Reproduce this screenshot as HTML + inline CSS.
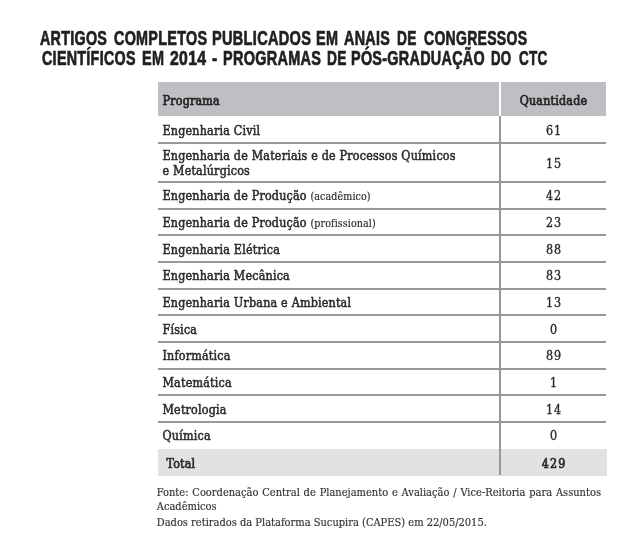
<!DOCTYPE html>
<html lang="pt-BR"><head><meta charset="utf-8"><title>Artigos completos publicados em anais de congressos</title>
<style>
html,body{margin:0;padding:0;background:#fff;}
body{width:640px;height:556px;position:relative;overflow:hidden;}
.ttl{margin:0;font-size:0;}
.h1{position:absolute;font-family:'Liberation Sans',Arial,sans-serif;font-weight:700;-webkit-text-stroke:0.7px #231f20;letter-spacing:0.4px;font-size:19.4px;line-height:20px;color:#231f20;white-space:nowrap;transform-origin:0 0;}
.t{position:absolute;font-family:'DejaVu Serif Condensed','DejaVu Serif','Liberation Serif',serif;font-stretch:condensed;font-size:12.4px;line-height:20px;color:#2b2a2b;white-space:nowrap;letter-spacing:0.2px;-webkit-text-stroke:0.5px #2b2a2b;}
.c{text-align:center;}
.n{-webkit-text-stroke:0.35px #2b2a2b;letter-spacing:0.9px;text-indent:0.9px;}
.b{font-weight:700;}
.hd{-webkit-text-stroke:0.65px #262626;color:#262626;}
.tb{-webkit-text-stroke:0.65px #2b2a2b;}
.tn{letter-spacing:1.1px;text-indent:1.1px;}
.s{font-size:10.6px;letter-spacing:0.1px;-webkit-text-stroke:0.15px #2b2a2b;}
.f{font-size:11px;color:#333;-webkit-text-stroke:0.15px #333;letter-spacing:0;}
.ln{position:absolute;left:158px;width:448px;height:2px;background:#96979b;}
.hdr{position:absolute;left:158px;top:82px;width:448px;height:34px;background:#bebfc3;}
.sep{position:absolute;left:499px;top:82px;width:2px;height:34px;background:#fff;}
.vl{position:absolute;left:499px;top:116px;width:2px;height:359.4px;background:#96979b;}
.tot{position:absolute;left:158px;top:448.5px;width:449px;height:27px;background:#e2e2e4;}
</style></head><body>
<h1 class="ttl"><span class="h1" style="left:40.3px;top:27.70px;transform:scaleX(0.7372)">ARTIGOS</span> <span class="h1" style="left:113.6px;top:27.70px;transform:scaleX(0.74)">COMPLETOS</span> <span class="h1" style="left:212.15px;top:27.70px;transform:scaleX(0.75)">PUBLICADOS</span> <span class="h1" style="left:316.36px;top:27.70px;transform:scaleX(0.7429)">EM</span> <span class="h1" style="left:344.25px;top:27.70px;transform:scaleX(0.7395)">ANAIS</span> <span class="h1" style="left:396.54px;top:27.70px;transform:scaleX(0.7058)">DE</span> <span class="h1" style="left:423.5px;top:27.70px;transform:scaleX(0.7225)">CONGRESSOS</span><br>
<span class="h1" style="left:41.5px;top:47.60px;transform:scaleX(0.737)">CIENTÍFICOS</span> <span class="h1" style="left:141.51px;top:47.60px;transform:scaleX(0.7446)">EM</span> <span class="h1" style="left:169.6px;top:47.60px;transform:scaleX(0.8144)">2014</span> <span class="h1" style="left:211.9px;top:47.60px;transform:scaleX(0.8083)">-</span> <span class="h1" style="left:222.75px;top:47.60px;transform:scaleX(0.7454)">PROGRAMAS</span> <span class="h1" style="left:326.79px;top:47.60px;transform:scaleX(0.7077)">DE</span> <span class="h1" style="left:351.16px;top:47.60px;transform:scaleX(0.7413)">PÓS-GRADUAÇÃO</span> <span class="h1" style="left:491.42px;top:47.60px;transform:scaleX(0.6839)">DO</span> <span class="h1" style="left:518.8px;top:47.60px;transform:scaleX(0.695)">CTC</span></h1>
<div class="hdr"></div><div class="sep"></div><div class="tot"></div>
<div class="ln" style="top:142.00px"></div>
<div class="ln" style="top:180.80px"></div>
<div class="ln" style="top:207.60px"></div>
<div class="ln" style="top:234.00px"></div>
<div class="ln" style="top:260.90px"></div>
<div class="ln" style="top:287.60px"></div>
<div class="ln" style="top:314.00px"></div>
<div class="ln" style="top:340.90px"></div>
<div class="ln" style="top:367.60px"></div>
<div class="ln" style="top:394.00px"></div>
<div class="ln" style="top:420.90px"></div>
<div class="vl"></div>
<div class="t hd" style="left:162.5px;top:90.60px;">Programa</div>
<div class="t c hd" style="left:501px;width:105px;top:90.60px">Quantidade</div>
<div class="t " style="left:162.5px;top:120.80px;">Engenharia Civil</div>
<div class="t c n" style="left:501px;width:105px;top:120.80px">61</div>
<div class="t " style="left:162.5px;top:145.75px;">Engenharia de Materiais e de Processos Químicos</div>
<div class="t " style="left:162.5px;top:161.00px;">e Metalúrgicos</div>
<div class="t c n" style="left:501px;width:105px;top:153.90px">15</div>
<div class="t " style="left:162.5px;top:186.40px;">Engenharia de Produção <span class="s">(acadêmico)</span></div>
<div class="t c n" style="left:501px;width:105px;top:186.40px">42</div>
<div class="t " style="left:162.5px;top:212.80px;">Engenharia de Produção <span class="s">(profissional)</span></div>
<div class="t c n" style="left:501px;width:105px;top:212.80px">23</div>
<div class="t " style="left:162.5px;top:239.70px;">Engenharia Elétrica</div>
<div class="t c n" style="left:501px;width:105px;top:239.70px">88</div>
<div class="t " style="left:162.5px;top:266.40px;">Engenharia Mecânica</div>
<div class="t c n" style="left:501px;width:105px;top:266.40px">83</div>
<div class="t " style="left:162.5px;top:292.80px;">Engenharia Urbana e Ambiental</div>
<div class="t c n" style="left:501px;width:105px;top:292.80px">13</div>
<div class="t " style="left:162.5px;top:319.70px;">Física</div>
<div class="t c n" style="left:501px;width:105px;top:319.70px">0</div>
<div class="t " style="left:162.5px;top:346.40px;">Informática</div>
<div class="t c n" style="left:501px;width:105px;top:346.40px">89</div>
<div class="t " style="left:162.5px;top:372.80px;">Matemática</div>
<div class="t c n" style="left:501px;width:105px;top:372.80px">1</div>
<div class="t " style="left:162.5px;top:399.70px;">Metrologia</div>
<div class="t c n" style="left:501px;width:105px;top:399.70px">14</div>
<div class="t " style="left:162.5px;top:426.30px;">Química</div>
<div class="t c n" style="left:501px;width:105px;top:426.30px">0</div>
<div class="t tb" style="left:166.5px;top:453.80px;">Total</div>
<div class="t c tb tn" style="left:501px;width:105px;top:453.80px">429</div>
<div class="t f" style="left:156.75px;top:483.30px;word-spacing:0.68px">Fonte: Coordenação Central de Planejamento e Avaliação / Vice-Reitoria para Assuntos</div>
<div class="t f" style="left:156.75px;top:497.00px;">Acadêmicos</div>
<div class="t f" style="left:156.75px;top:512.75px;">Dados retirados da Plataforma Sucupira (CAPES) em 22/05/2015.</div>
</body></html>
